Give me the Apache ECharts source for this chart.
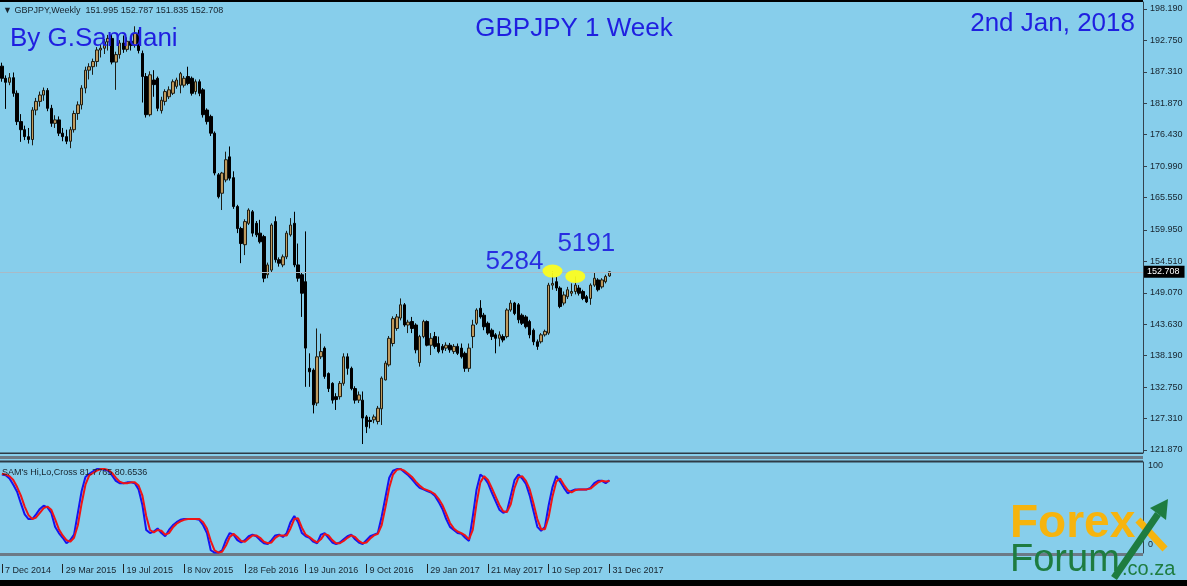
<!DOCTYPE html>
<html><head><meta charset="utf-8">
<script src="https://cdn.jsdelivr.net/npm/echarts@6/dist/echarts.min.js"></script>
<style>html,body{margin:0;padding:0;background:#87ceeb;}#c{width:1187px;height:586px;}</style>
</head><body><div id="c"></div>
<script>
// ---- data (weekly GBPJPY candles, 7 Dec 2014 .. 31 Dec 2017) ----
const opens = [
188.3,186.2,185.5,186.3,183.6,178.7,177.3,176.1,175.6,180.7,
182.2,183.3,184.1,181.0,178.4,179.0,176.7,176.1,175.3,177.3,
180.1,181.6,184.5,187.6,188.2,189.1,191.1,191.4,192.5,193.1,
189.0,190.3,192.3,191.2,192.6,191.9,194.0,190.5,186.5,179.9,
185.9,186.2,180.6,182.2,183.0,183.6,184.8,185.0,185.0,186.5,
186.2,183.9,185.6,184.2,180.7,179.6,176.7,169.5,166.3,168.6,
172.6,169.0,164.0,160.2,157.4,161.1,163.1,161.1,159.4,158.8,
152.2,153.0,161.4,154.8,153.9,155.3,159.1,161.1,153.9,152.2,
151.0,136.0,135.7,130.0,138.0,139.5,135.1,133.4,131.1,131.1,
133.4,138.0,136.0,132.5,130.5,130.5,127.6,127.0,127.1,126.8,
129.0,134.0,136.6,140.3,142.9,144.7,147.0,143.5,144.1,143.5,
137.0,141.5,144.1,140.0,141.5,140.3,139.8,139.5,140.0,138.9,
139.8,139.5,138.6,136.0,141.5,143.8,146.4,145.2,143.8,142.6,
141.8,141.2,141.5,141.5,146.1,147.3,147.0,145.2,144.9,144.1,
142.6,140.6,140.6,141.8,142.1,150.4,151.0,149.9,147.3,148.4,
149.0,149.3,149.9,149.3,148.4,148.1,150.4,151.3,150.1,151.0,
151.995];
const closes = [
186.2,185.5,186.3,183.6,178.7,177.3,176.1,175.6,180.7,182.2,
183.3,184.1,181.0,178.4,179.0,176.7,176.1,175.3,177.3,180.1,
181.6,184.5,187.6,188.2,189.1,191.1,191.4,192.5,193.1,189.0,
190.3,192.3,191.2,192.6,191.9,194.0,191.0,186.5,179.9,186.8,
185.1,181.0,182.4,183.9,184.2,185.6,185.9,187.0,186.2,185.3,
183.6,185.6,183.6,179.9,178.7,176.7,169.8,165.7,169.8,172.1,
168.9,164.0,160.2,157.6,161.4,163.4,159.4,159.1,157.9,151.6,
153.9,160.8,154.8,154.2,155.3,159.4,160.8,153.9,151.6,149.0,
139.5,135.4,129.7,138.0,138.9,134.6,132.5,130.5,130.6,133.4,
138.0,136.0,132.5,130.5,131.4,127.4,125.9,126.8,127.6,129.1,
134.3,136.9,141.2,144.6,144.9,147.0,143.5,144.0,142.9,139.2,
141.5,144.1,140.0,141.2,139.8,138.9,139.2,140.0,139.2,139.8,
138.6,138.0,136.0,139.5,143.5,146.1,144.9,143.2,142.1,141.5,
141.2,141.8,140.9,146.1,147.3,145.5,144.4,143.8,143.2,141.8,
140.6,139.8,141.8,142.4,150.4,150.7,149.9,146.7,148.7,149.6,
149.3,150.4,149.0,148.1,147.5,150.4,151.6,149.6,151.3,151.9,
152.708];
const lows = [
185.6,180.9,185.0,183.0,178.1,175.2,175.5,174.9,174.6,179.8,
181.3,182.3,180.5,177.8,177.6,176.2,175.3,174.8,174.1,176.8,
179.0,180.8,183.6,186.0,186.8,188.2,189.8,190.4,191.0,188.6,
184.2,189.6,190.6,190.8,191.0,191.5,190.5,182.0,179.4,179.6,
183.0,180.5,180.1,181.5,182.6,183.3,184.4,183.6,184.6,185.0,
183.2,183.4,183.1,179.4,178.2,176.2,169.4,165.4,163.4,168.2,
168.5,163.6,159.4,154.2,155.6,160.8,158.8,158.7,157.6,150.9,
151.6,152.6,154.3,153.6,153.5,154.9,158.8,153.5,151.0,144.9,
132.8,132.8,128.2,129.5,137.6,134.2,131.9,129.9,128.8,130.6,
133.0,134.9,132.2,129.9,130.0,122.9,124.8,125.6,126.5,126.3,
126.2,133.9,136.3,139.8,142.5,144.3,143.2,142.1,142.1,138.6,
136.3,141.2,139.8,138.3,139.4,138.6,138.6,139.0,138.7,138.5,
138.3,137.7,135.4,135.4,139.5,143.5,144.6,142.6,141.8,140.9,
138.6,139.8,140.5,141.2,145.8,145.2,143.8,143.5,142.9,141.2,
140.0,139.2,140.3,141.5,141.8,149.6,149.4,146.4,146.9,148.0,
148.5,148.8,148.6,147.8,147.3,147.0,150.1,149.3,149.8,150.7,
151.835];
const highs = [
188.9,186.7,187.1,187.2,184.1,180.0,178.0,177.6,181.2,182.8,
183.9,184.6,184.5,181.6,179.8,179.6,177.6,177.3,177.8,180.6,
182.2,185.0,188.2,188.8,189.6,191.6,192.0,193.0,193.7,193.8,
190.8,192.8,193.6,193.3,193.4,195.2,194.6,191.0,187.1,187.4,
187.6,186.5,183.0,184.3,184.8,186.0,186.3,187.3,186.6,188.2,
186.5,186.0,186.0,184.5,181.0,179.9,177.0,169.8,170.0,173.5,
174.4,170.1,164.3,160.5,161.8,163.7,163.4,161.5,161.7,159.1,
154.3,161.1,162.3,155.2,155.7,159.8,162.0,163.1,157.6,152.5,
159.7,138.6,136.0,142.9,142.0,139.8,135.3,133.6,131.7,133.8,
138.6,138.6,136.3,132.9,132.0,132.0,127.9,127.6,128.0,129.5,
134.6,137.3,141.6,145.0,145.4,148.1,147.3,144.4,144.9,143.8,
141.8,144.4,144.3,142.1,142.3,141.5,140.2,140.5,140.4,140.2,
140.3,140.3,138.9,140.3,144.4,146.4,147.8,145.6,144.1,142.9,
142.1,142.4,141.9,146.4,147.8,147.5,147.3,145.5,145.2,144.4,
142.9,141.0,142.1,142.7,150.8,152.84,151.8,150.2,149.3,150.1,
150.7,151.91,150.4,149.6,148.7,150.7,152.5,151.6,151.6,152.2,
152.787];
// SAM's Hi,Lo,Cross oscillator: fast (blue) and slow (red)
const oscFast = [
89,88,84,76,67,52,38,32,32,38,
45,49,47,40,22,14,8,1,5,12,
40,68,86,90,93,96,96,95,94,88,
81,78,78,79,79,78,70,50,18,14,
16,20,14,10,18,24,28,31,32,32,
32,32,31,24,14,-8,-11,-11,-8,5,
14,12,5,2,5,10,12,10,5,1,
0,5,11,12,9,14,28,36,28,14,
10,8,3,1,12,14,8,2,0,2,
6,10,12,6,2,0,5,10,12,14,
35,60,85,94,96,96,92,88,83,77,
72,70,68,66,62,54,45,32,22,18,
14,13,8,4,35,70,89,85,78,66,
55,44,40,42,62,82,89,84,77,62,
42,22,17,22,50,73,87,80,72,65,
68,70,70,70,70,72,78,81,81,78,
81.7765];
const oscSlow = [
90,89,87,82,73,62,48,37,32,34,
40,46,48,44,32,19,11,5,3,8,
24,52,76,88,91,94,96,96,95,91,
85,80,78,78,79,79,75,62,36,18,
15,18,17,12,14,21,26,29,31,32,
32,32,32,28,20,4,-8,-11,-10,-2,
9,13,9,4,3,7,11,11,8,3,
1,2,8,11,11,11,20,32,33,21,
12,9,5,2,6,13,11,5,1,1,
4,8,11,9,4,1,2,7,11,13,
24,47,72,89,95,96,94,90,86,80,
75,71,69,67,64,58,50,39,27,20,
16,14,11,6,18,52,79,87,82,72,
61,50,42,41,51,72,85,87,81,70,
52,32,19,19,35,61,80,84,76,69,
66,69,70,70,70,71,75,79,81,80,
80.6536];
const priceTicks = [121.87,127.31,132.75,138.19,143.63,149.07,154.51,159.95,165.55,170.99,176.43,181.87,187.31,192.75,198.19];
const oscTicks = [0,100];
const lastPrice = 152.708;
const markedHighs = [[145,152.84],[151,151.91]];
const markedLabels = ['5284','5191'];
const monthNames = ['Jan','Feb','Mar','Apr','May','Jun','Jul','Aug','Sep','Oct','Nov','Dec'];
const totalSlots = 301;   // chart keeps empty space on the right
const labelEvery = 16;

// ---- build ----
const nBars = opens.length;
const categories = [];
for (let i = 0; i < totalSlots; i++) {
  if (i < nBars) {
    const d = new Date(Date.UTC(2014, 11, 7 + 7 * i));
    categories.push(d.getUTCDate() + ' ' + monthNames[d.getUTCMonth()] + ' ' + d.getUTCFullYear());
  } else categories.push('slot' + i);
}
const candles = opens.map((o, i) => [o, closes[i], lows[i], highs[i]]);
const showTick = (idx) => idx < nBars && idx % labelEvery === 0;
const FONT = '"Liberation Sans", Arial, sans-serif';
const textCol = '#17232d';
const blue = '#1f1fe0';

const chart = echarts.init(document.getElementById('c'), null, {renderer: 'canvas'});
chart.setOption({
  animation: false,
  backgroundColor: '#87ceeb',
  grid: [
    {left: 0, top: 2, width: 1143, height: 451},
    {left: 0, top: 462, width: 1143, height: 91}
  ],
  xAxis: [
    {type: 'category', gridIndex: 0, data: categories, boundaryGap: true, show: false},
    {type: 'category', gridIndex: 1, data: categories, boundaryGap: true, position: 'bottom', offset: 11,
     axisLine: {show: false, onZero: false},
     axisTick: {show: true, inside: false, interval: showTick, alignWithLabel: true, length: 9, lineStyle: {color: '#222'}},
     axisLabel: {interval: showTick, align: 'left', verticalAlign: 'middle', margin: 7, fontSize: 9,
       fontFamily: FONT, color: textCol, padding: [0, 0, 0, 3]},
     splitLine: {show: false}}
  ],
  yAxis: [
    {type: 'value', gridIndex: 0, position: 'right', min: 121.35, max: 199.40, scale: true,
     axisLine: {show: true, lineStyle: {color: '#33424e', width: 1}},
     axisTick: {show: true, customValues: priceTicks, length: 4, lineStyle: {color: '#33424e'}},
     axisLabel: {customValues: priceTicks, formatter: v => v.toFixed(3), fontSize: 9, fontFamily: FONT, color: textCol, margin: 7},
     splitLine: {show: false}},
    {type: 'value', gridIndex: 1, position: 'right', min: -11.5, max: 105.1,
     axisLine: {show: true, lineStyle: {color: '#33424e', width: 1}},
     axisTick: {show: false},
     axisLabel: {customValues: oscTicks, formatter: v => String(v), fontSize: 9, fontFamily: FONT, color: textCol, margin: 5},
     splitLine: {show: false}}
  ],
  series: [
    {type: 'candlestick', xAxisIndex: 0, yAxisIndex: 0, data: candles, barWidth: 3,
     itemStyle: {color: '#bf9a5e', color0: '#000000', borderColor: '#1d1d14', borderColor0: '#000000', borderWidth: 1},
     markLine: {silent: true, symbol: ['none', 'none'], animation: false,
       lineStyle: {color: '#a9bac6', width: 1, type: 'solid'},
       label: {show: true, position: 'end', formatter: lastPrice.toFixed(3), backgroundColor: '#000', color: '#fff',
         fontSize: 9, fontFamily: FONT, padding: [2, 5, 1, 3], distance: 1},
       data: [{yAxis: lastPrice}]}},
    {type: 'scatter', xAxisIndex: 0, yAxisIndex: 0, data: markedHighs, symbol: 'circle', symbolSize: [20, 13],
     itemStyle: {color: '#ffff1a', opacity: 0.92}, z: 5,
     label: {show: true, position: 'inside', fontSize: 26, fontFamily: FONT, color: blue,
       formatter: p => markedLabels[p.dataIndex]},
     labelLayout: p => p.dataIndex === 0 ? {dx: -38, dy: -9} : {dx: 11, dy: -33}},
    {type: 'line', xAxisIndex: 1, yAxisIndex: 1, data: oscFast, showSymbol: false, symbol: 'none',
     lineStyle: {color: '#1414f0', width: 2}},
    {type: 'line', xAxisIndex: 1, yAxisIndex: 1, data: oscSlow, showSymbol: false, symbol: 'none',
     lineStyle: {color: '#f01414', width: 2}}
  ],
  graphic: [
    {type: 'rect', shape: {x: 0, y: 0, width: 1143, height: 2}, style: {fill: '#000'}, silent: true},
    {type: 'rect', shape: {x: 0, y: 580, width: 1187, height: 6}, style: {fill: '#000'}, silent: true},
    {type: 'rect', shape: {x: 0, y: 452.5, width: 1143, height: 1.5}, style: {fill: '#2e3b46'}, silent: true},
    {type: 'rect', shape: {x: 0, y: 456, width: 1143, height: 3}, style: {fill: '#6c7a86'}, silent: true},
    {type: 'rect', shape: {x: 0, y: 460.5, width: 1143, height: 2}, style: {fill: '#2e3b46'}, silent: true},
    {type: 'rect', shape: {x: 0, y: 553, width: 1143, height: 3}, style: {fill: '#6c7a86'}, silent: true},
    {type: 'text', x: 3, y: 11, style: {text: '\u25BC GBPJPY,Weekly  151.995 152.787 151.835 152.708', font: '9px ' + FONT, fill: textCol, verticalAlign: 'middle'}},
    {type: 'text', x: 10, y: 39, z: 10, style: {text: 'By G.Samdani', font: '26px ' + FONT, fill: blue, verticalAlign: 'middle'}},
    {type: 'text', x: 574, y: 29, style: {text: 'GBPJPY 1 Week', font: '26px ' + FONT, fill: blue, align: 'center', verticalAlign: 'middle'}},
    {type: 'text', x: 1135, y: 24, style: {text: '2nd Jan, 2018', font: '26px ' + FONT, fill: blue, align: 'right', verticalAlign: 'middle'}},
    {type: 'text', x: 2, y: 473, z: 10, style: {text: "SAM's Hi,Lo,Cross 81.7765 80.6536", font: '9px ' + FONT, fill: textCol, verticalAlign: 'middle'}},
    {type: 'text', x: 1010, y: 524, z: 10, style: {text: 'Forex', font: 'bold 46px ' + FONT, fill: '#f6b40e', verticalAlign: 'middle'}},
    {type: 'text', x: 1010, y: 561, z: 10, style: {text: 'Forum', font: '38px ' + FONT, fill: '#1e7c40', verticalAlign: 'middle'}},
    {type: 'text', x: 1122, y: 569, z: 10, style: {text: '.co.za', font: '20px ' + FONT, fill: '#1e7c40', verticalAlign: 'middle'}},
    {type: 'line', z: 10, shape: {x1: 1138, y1: 520, x2: 1165, y2: 549}, style: {stroke: '#f6b40e', lineWidth: 7}},
    {type: 'line', z: 11, shape: {x1: 1114, y1: 578, x2: 1158, y2: 514}, style: {stroke: '#1e7c40', lineWidth: 7}},
    {type: 'polygon', z: 11, shape: {points: [[1168, 499], [1150, 508], [1166, 520]]}, style: {fill: '#1e7c40'}}
  ]
});
</script>
</body></html>
